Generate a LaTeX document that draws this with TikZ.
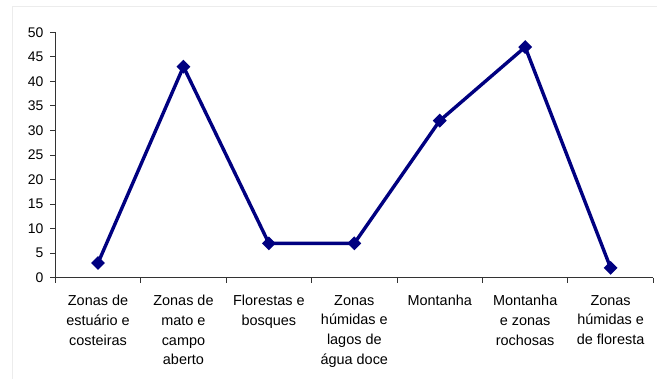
\documentclass[tikz,border=0pt]{standalone}
\usepackage{fontspec}
\setmainfont{Liberation Sans}
\usetikzlibrary{shapes.geometric}
\definecolor{navyline}{RGB}{0,0,128}
\definecolor{framegray}{RGB}{236,236,236}
\tikzset{
  frameline/.style={draw=framegray, line width=1bp},
  axisline/.style={draw=black!80, line width=1bp},
  series/.style={draw=navyline, line width=3.4bp, line join=round},
  marker/.style={diamond, fill=navyline, draw=none, minimum size=14bp, inner sep=0pt},
  ticklabel/.style={anchor=east, inner sep=0pt, font=\fontsize{14}{16}\selectfont},
  catlabel/.style={anchor=north, inner sep=0pt, align=center, font=\fontsize{14.5}{19.8}\selectfont}
}
\begin{document}
\begin{tikzpicture}[x=1bp,y=-1bp]
\useasboundingbox (0,0) rectangle (657,379);
\draw[frameline] (12,379) -- (12,6) -- (657,6);
% axes
\coordinate (origin) at (55.3,277.7);
\coordinate (ytop) at (55.3,32.3);
\coordinate (xend) at (653.3,277.7);
\draw[axisline] (ytop) -- (origin) -- (xend);
\foreach \v in {0,5,...,50}{
  \pgfmathsetmacro{\yy}{277.7-\v*4.908}
  \draw[axisline] (50,\yy) -- (55.3,\yy);
  \node[ticklabel] (t\v) at (43.5,\yy) {\v};
}
\foreach \i in {0,...,7}{
  \pgfmathsetmacro{\xx}{55.3+\i*85.43}
  \draw[axisline] (\xx,277.7) -- (\xx,282.5);
}
% data
\foreach \i/\v in {1/3,2/43,3/7,4/7,5/32,6/47,7/2}{
  \coordinate (p\i) at ({55.3+(\i-0.5)*85.43},{277.7-\v*4.908});
}
\draw[series] (p1) -- (p2) -- (p3) -- (p4) -- (p5) -- (p6) -- (p7);
\foreach \i in {1,...,7}{
  \node[marker] (m\i) at (p\i) {};
}
% category labels
\node[catlabel] (c1) at ({55.3+0.5*85.43},295) {Zonas de\\estuário e\\costeiras};
\node[catlabel] (c2) at ({55.3+1.5*85.43},295) {Zonas de\\mato e\\campo\\aberto};
\node[catlabel] (c3) at ({55.3+2.5*85.43},295) {Florestas e\\bosques};
\node[catlabel] (c4) at ({55.3+3.5*85.43},295) {Zonas\\húmidas e\\lagos de\\água doce};
\node[catlabel] (c5) at ({55.3+4.5*85.43},295) {Montanha};
\node[catlabel] (c6) at ({55.3+5.5*85.43},295) {Montanha\\e zonas\\rochosas};
\node[catlabel] (c7) at ({55.3+6.5*85.43},295) {Zonas\\húmidas e\\de floresta};
\end{tikzpicture}
\end{document}
